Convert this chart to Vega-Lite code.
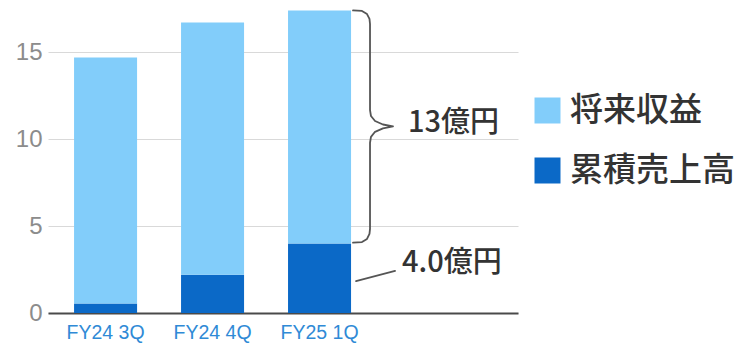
{
  "$schema": "https://vega.github.io/schema/vega-lite/v6.json",
  "autosize": "none",
  "width": 470,
  "height": 313,
  "padding": {"left": 48, "top": 0, "right": 221, "bottom": 32},
  "background": "white",
  "config": {"view": {"stroke": null}},
  "layer": [
    {
      "data": {"values": [
        {"q": "FY24 3Q", "series": "累積売上高", "v": 0.55},
        {"q": "FY24 3Q", "series": "将来収益", "v": 14.15},
        {"q": "FY24 4Q", "series": "累積売上高", "v": 2.2},
        {"q": "FY24 4Q", "series": "将来収益", "v": 14.5},
        {"q": "FY25 1Q", "series": "累積売上高", "v": 4.0},
        {"q": "FY25 1Q", "series": "将来収益", "v": 13.4}
      ]},
      "mark": {"type": "bar"},
      "encoding": {
        "x": {"field": "q", "type": "nominal", "sort": null,
          "scale": {"paddingInner": 0.411, "paddingOuter": 0.902, "align": 0.135},
          "axis": {"title": null, "labelAngle": 0, "ticks": false, "domainColor": "#4a4a4a", "domainWidth": 2,
            "labelFont": "Liberation Sans", "labelFontSize": 19.5, "labelColor": "#2f8ad6", "labelPadding": 10, "grid": false}},
        "y": {"field": "v", "type": "quantitative", "stack": "zero", "title": null,
          "scale": {"domain": [0, 18], "nice": false},
          "axis": {"title": null, "values": [0, 5, 10, 15], "domain": false, "ticks": false, "grid": true,
            "gridColor": "#d9d9d9", "gridWidth": 1, "labelFont": "Liberation Sans", "labelFontSize": 24,
            "labelColor": "#8c8c8c", "labelPadding": 6}},
        "color": {"field": "series", "type": "nominal",
          "scale": {"domain": ["将来収益", "累積売上高"], "range": ["#82cdfa", "#0b69c7"]},
          "legend": {"title": null, "orient": "none", "legendX": 483, "legendY": 94, "padding": 0,
            "symbolType": "square", "symbolSize": 676, "symbolStrokeWidth": 0, "symbolOpacity": 1,
            "labelFont": "Noto Sans CJK JP", "labelFontSize": 33, "labelFontWeight": 500, "labelColor": "#333333",
            "labelOffset": 6, "rowPadding": 26, "labelLimit": 300}},
        "order": {"field": "series", "sort": "descending"}
      }
    },
    {
      "data": {"values": [
        {"part": "brace", "bx": 3.313, "by": 17.4},
        {"part": "brace", "bx": 3.397, "by": 17.37},
        {"part": "brace", "bx": 3.444, "by": 17.19},
        {"part": "brace", "bx": 3.467, "by": 16.91},
        {"part": "brace", "bx": 3.472, "by": 16.62},
        {"part": "brace", "bx": 3.472, "by": 11.67},
        {"part": "brace", "bx": 3.481, "by": 11.33},
        {"part": "brace", "bx": 3.519, "by": 11.04},
        {"part": "brace", "bx": 3.593, "by": 10.84},
        {"part": "brace", "bx": 3.687, "by": 10.73},
        {"part": "brace", "bx": 3.593, "by": 10.62},
        {"part": "brace", "bx": 3.519, "by": 10.42},
        {"part": "brace", "bx": 3.481, "by": 10.13},
        {"part": "brace", "bx": 3.472, "by": 9.79},
        {"part": "brace", "bx": 3.472, "by": 4.84},
        {"part": "brace", "bx": 3.467, "by": 4.55},
        {"part": "brace", "bx": 3.444, "by": 4.26},
        {"part": "brace", "bx": 3.397, "by": 4.08},
        {"part": "brace", "bx": 3.313, "by": 4.05},
        {"part": "leader", "bx": 3.341, "by": 1.84},
        {"part": "leader", "bx": 3.706, "by": 2.42}
      ]},
      "mark": {"type": "line", "color": "#555555", "strokeWidth": 1.8, "strokeCap": "round", "strokeJoin": "round"},
      "encoding": {
        "x": {"field": "bx", "type": "quantitative", "scale": {"domain": [0.4626, 4.855], "nice": false, "zero": false}, "axis": null},
        "y": {"field": "by", "type": "quantitative", "title": null, "scale": {"domain": [0, 18], "nice": false}},
        "detail": {"field": "part"},
        "order": {"value": null}
      }
    },
    {
      "data": {"values": [
        {"label": "13億円", "tx": 3.827, "ty": 10.95},
        {"label": "4.0億円", "tx": 3.771, "ty": 2.88}
      ]},
      "mark": {"type": "text", "align": "left", "baseline": "middle", "font": "Noto Sans CJK JP", "fontSize": 29, "fontWeight": 500, "color": "#333333"},
      "encoding": {
        "x": {"field": "tx", "type": "quantitative", "scale": {"domain": [0.4626, 4.855], "nice": false, "zero": false}, "axis": null},
        "y": {"field": "ty", "type": "quantitative", "title": null, "scale": {"domain": [0, 18], "nice": false}},
        "text": {"field": "label"}
      }
    }
  ],
  "resolve": {"scale": {"x": "independent"}}
}
